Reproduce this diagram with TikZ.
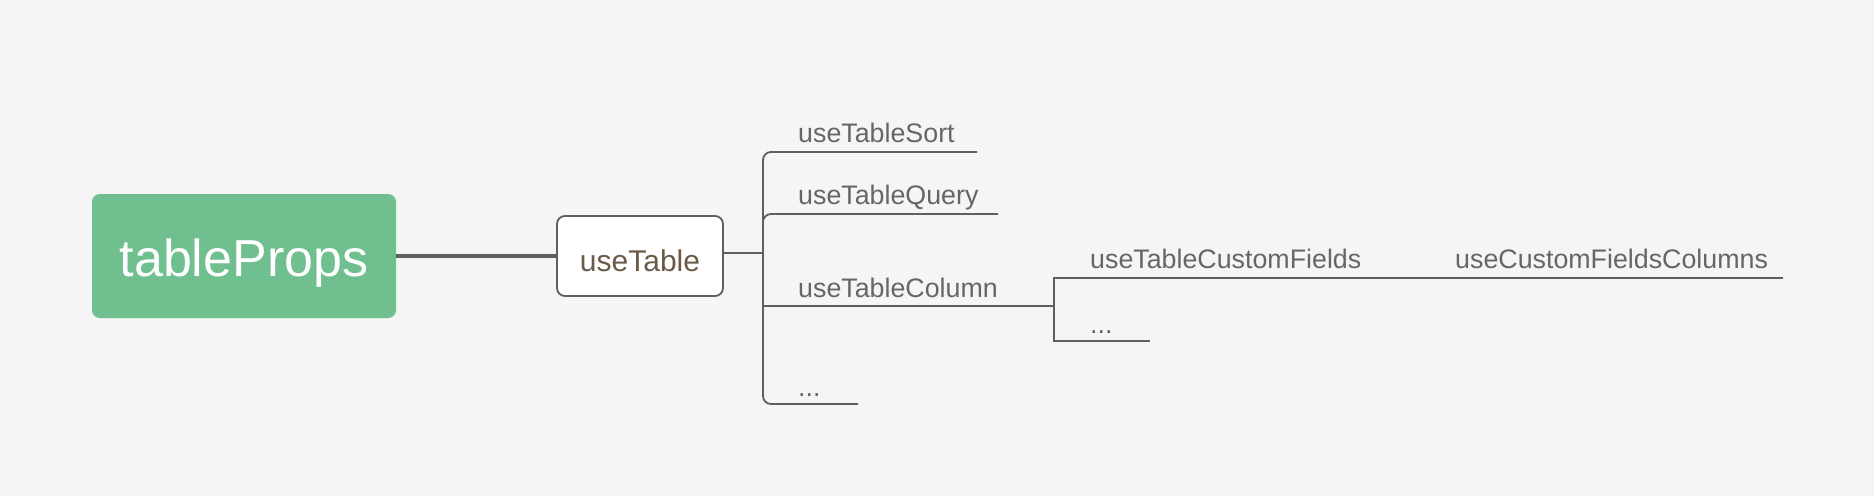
\documentclass[tikz,border=0pt]{standalone}
\usepackage{fontspec}
\setmainfont{Liberation Sans}
\definecolor{bg}{HTML}{F5F5F5}
\definecolor{rootgreen}{HTML}{6FBF8F}
\definecolor{linegray}{HTML}{5F5F5F}
\definecolor{textgray}{HTML}{666666}
\definecolor{brown}{HTML}{6B5A4A}
\begin{document}
\begin{tikzpicture}[x=1pt,y=-1pt,
  rootbox/.style={fill=rootgreen,rounded corners=8pt,minimum width=304pt,minimum height=124pt,text=white,font=\fontsize{52}{60}\selectfont,inner sep=0pt,text height=40pt,text depth=0pt},
  midbox/.style={fill=white,draw=linegray,line width=1.8pt,rounded corners=8pt,minimum width=166pt,minimum height=80pt,text=brown,font=\fontsize{30}{34}\selectfont,inner sep=0pt,text height=30pt,text depth=0pt},
  lbl/.style={anchor=base west,text=textgray,font=\fontsize{26.8}{30}\selectfont,inner sep=0pt},
  conn/.style={draw=linegray,line width=1.8pt,rounded corners=8pt},
  thick conn/.style={draw=linegray,line width=3.2pt}]
\fill[bg] (0,0) rectangle (1874,496);
\useasboundingbox (0,0) rectangle (1874,496);
% nodes
\node[rootbox] (root) at (244,256) {tableProps};
\node[midbox] (ut) at (640,256) {useTable};
\node[lbl] (sort) at (798,142) {useTableSort};
\node[lbl] (query) at (798,204) {useTableQuery};
\node[lbl] (col) at (798,297) {useTableColumn};
\node[lbl] (dots1) at (798,396) {...};
\node[lbl] (cf) at (1090,268) {useTableCustomFields};
\node[lbl] (dots2) at (1090,333) {...};
\node[lbl] (cfc) at (1455,268) {useCustomFieldsColumns};
% coordinates
\coordinate (trunk) at (763,253);
\coordinate (sortend) at (977,152);
\coordinate (queryend) at (998,214);
\coordinate (colend) at (1054,306);
\coordinate (dots1end) at (858,404);
\coordinate (cfmid) at (1380,278);
\coordinate (cfcend) at (1783,278);
\coordinate (dots2end) at (1150,341);
% connectors
\draw[thick conn] (root.east) -- (ut.west);
\draw[conn] (ut.east |- trunk) -- (trunk);
\draw[conn] (sortend) -- (sortend -| trunk) -- (dots1end -| trunk) -- (dots1end);
\draw[conn] (763,236) -- (queryend -| trunk) -- (queryend);
\draw[conn,rounded corners=0pt] (colend -| trunk) -- (colend);
\draw[conn,rounded corners=0pt] (cfmid) -- (cfmid -| colend) -- (dots2end -| colend) -- (dots2end);
\draw[conn] (cfmid) -- (cfcend);
\end{tikzpicture}
\end{document}
